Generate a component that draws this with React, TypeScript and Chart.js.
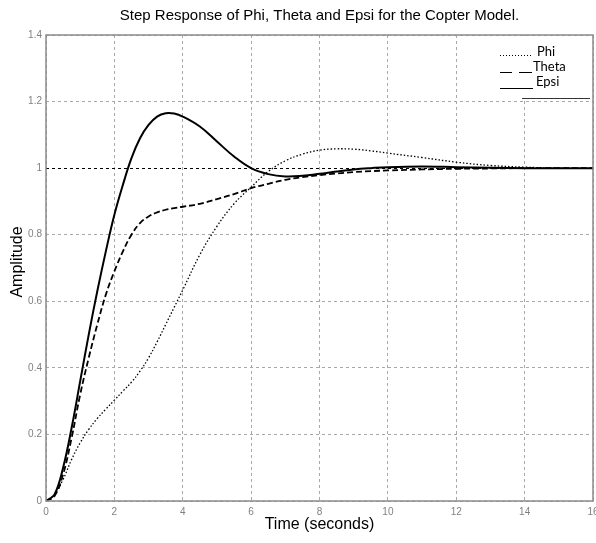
import React, { useEffect, useRef } from "react";
import { Chart, registerables } from "chart.js";

Chart.register(...registerables);

const timeVals = [0, 0.25, 0.5, 0.75, 1, 1.25, 1.5, 1.75, 2, 2.25, 2.5, 2.75, 3, 3.25, 3.5, 3.75, 4, 4.5, 5, 5.5, 6, 6.5, 7, 7.5, 8, 8.5, 9, 9.5, 10, 11, 12, 13, 14, 15, 16];
const phiVals = [0, 0.02, 0.065, 0.125, 0.175, 0.215, 0.248, 0.276, 0.303, 0.33, 0.357, 0.39, 0.43, 0.478, 0.53, 0.582, 0.634, 0.74, 0.825, 0.893, 0.943, 0.99, 1.022, 1.042, 1.054, 1.058, 1.057, 1.052, 1.045, 1.032, 1.018, 1.008, 1.003, 1.0, 0.999];
const thetaVals = [0, 0.015, 0.08, 0.19, 0.32, 0.43, 0.53, 0.62, 0.69, 0.75, 0.8, 0.835, 0.855, 0.867, 0.875, 0.88, 0.884, 0.893, 0.907, 0.922, 0.94, 0.953, 0.965, 0.973, 0.979, 0.984, 0.988, 0.991, 0.993, 0.996, 0.998, 0.999, 1.0, 1.0, 1.0];
const epsiVals = [0, 0.02, 0.1, 0.22, 0.36, 0.5, 0.63, 0.75, 0.86, 0.95, 1.03, 1.09, 1.13, 1.155, 1.165, 1.164, 1.155, 1.125, 1.08, 1.035, 1.0, 0.982, 0.975, 0.977, 0.983, 0.99, 0.996, 1.0, 1.003, 1.005, 1.003, 1.001, 1.0, 1.0, 1.0];

const titleText = "Step Response of Phi, Theta and Epsi for the Copter Model.";
const xTitle = "Time (seconds)";
const yTitle = "Amplitude";
const legendLabels = ["Phi", "Theta", "Epsi"];

const toPts = (ys: number[]) => timeVals.map((t, i) => ({ x: t, y: ys[i] }));

const decorPlugin = {
  id: "decor",
  beforeDatasetsDraw(chart: any) {
    const { ctx, chartArea: a } = chart;
    ctx.save();
    ctx.fillStyle = "#fff";
    ctx.fillRect(496, a.top + 1, a.right - 497, 62);
    ctx.restore();
  },
  afterDraw(chart: any) {
    const { ctx, chartArea: a } = chart;
    ctx.save();
    ctx.strokeStyle = "#8a8a8a";
    ctx.lineWidth = 1.5;
    ctx.strokeRect(a.left, a.top, a.right - a.left, a.bottom - a.top);

    ctx.fillStyle = "#000";
    ctx.textAlign = "center";
    ctx.textBaseline = "middle";
    ctx.font = "15px 'Liberation Sans', Arial, sans-serif";
    ctx.fillText(titleText, (a.left + a.right) / 2, 16);
    ctx.font = "16px 'Liberation Sans', Arial, sans-serif";
    ctx.fillText(xTitle, (a.left + a.right) / 2, 525);
    ctx.save();
    ctx.translate(18, (a.top + a.bottom) / 2 - 6);
    ctx.rotate(-Math.PI / 2);
    ctx.fillText(yTitle, 0, 0);
    ctx.restore();

    ctx.strokeStyle = "#000";
    ctx.fillStyle = "#000";
    ctx.textAlign = "left";
    ctx.font = "13px Lato, 'Open Sans', sans-serif";
    ctx.lineWidth = 1;
    ctx.setLineDash([1, 2]);
    ctx.beginPath();
    ctx.moveTo(500, 55.5);
    ctx.lineTo(533, 55.5);
    ctx.stroke();
    ctx.fillText(legendLabels[0], 537, 52);
    ctx.setLineDash([]);
    ctx.beginPath();
    ctx.moveTo(500, 72.5);
    ctx.lineTo(512, 72.5);
    ctx.moveTo(519, 72.5);
    ctx.lineTo(532, 72.5);
    ctx.stroke();
    ctx.fillText(legendLabels[1], 533, 67);
    ctx.beginPath();
    ctx.moveTo(500, 88.5);
    ctx.lineTo(533, 88.5);
    ctx.stroke();
    ctx.fillText(legendLabels[2], 536, 82);
    ctx.strokeStyle = "#333";
    ctx.beginPath();
    ctx.moveTo(522, 98.5);
    ctx.lineTo(590, 98.5);
    ctx.stroke();
    ctx.restore();
  },
};

export default function App() {
  const ref = useRef<HTMLCanvasElement>(null);
  useEffect(() => {
    document.body.style.margin = "0";
    const chart = new Chart(ref.current!, {
      type: "line",
      data: {
        datasets: [
          {
            label: "Phi",
            data: toPts(phiVals),
            borderColor: "#000",
            borderWidth: 1.3,
            borderDash: [1.5, 2],
            pointRadius: 0,
            tension: 0.4,
            fill: false,
          },
          {
            label: "Theta",
            data: toPts(thetaVals),
            borderColor: "#000",
            borderWidth: 1.8,
            borderDash: [6, 3],
            pointRadius: 0,
            tension: 0.4,
            fill: false,
          },
          {
            label: "Epsi",
            data: toPts(epsiVals),
            borderColor: "#000",
            borderWidth: 2,
            pointRadius: 0,
            tension: 0.4,
            fill: false,
          },
        ],
      },
      options: {
        animation: false,
        responsive: false,
        maintainAspectRatio: false,
        layout: { padding: { top: 35, right: 3, left: 0, bottom: 0 } },
        plugins: { legend: { display: false }, tooltip: { enabled: false }, title: { display: false } },
        scales: {
          x: {
            type: "linear",
            min: 0,
            max: 16,
            ticks: {
              stepSize: 2,
              color: "#808080",
              font: { size: 10, family: "'Liberation Sans', Arial, sans-serif" },
              padding: 5,
              maxRotation: 0,
            },
            grid: { color: "#a8a8a8", drawTicks: false, lineWidth: 1 },
            border: { display: false, dash: [3, 3] },
            afterFit: (s: any) => {
              s.height = 42;
              s.paddingLeft = 0;
              s.paddingRight = 0;
            },
          },
          y: {
            min: 0,
            max: 1.4,
            ticks: {
              stepSize: 0.2,
              color: "#808080",
              font: { size: 10, family: "'Liberation Sans', Arial, sans-serif" },
              padding: 4,
              callback: (v: any) => String(Math.round(Number(v) * 10) / 10),
            },
            grid: {
              color: (c: any) => (c.tick && Math.abs(c.tick.value - 1) < 1e-6 ? "#000" : "#a8a8a8"),
              drawTicks: false,
              lineWidth: 1,
            },
            border: { display: false, dash: [3, 3] },
            afterFit: (s: any) => {
              s.width = 46;
              s.paddingTop = 0;
              s.paddingBottom = 0;
            },
          },
        },
      },
      plugins: [decorPlugin],
    } as any);
    return () => chart.destroy();
  }, []);
  return (
    <div style={{ width: 596, height: 543, background: "#fff" }}>
      <canvas ref={ref} width={596} height={543} style={{ width: 596, height: 543, display: "block" }} />
    </div>
  );
}
